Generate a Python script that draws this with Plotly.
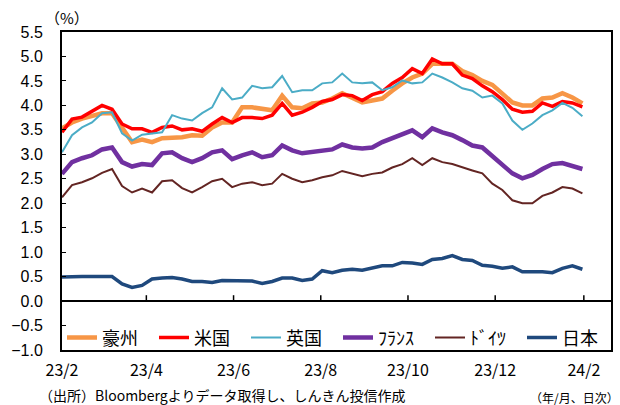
import pandas as pd
import plotly.graph_objects as go

dates = pd.date_range("2023-02-01", periods=53, freq="7D")

aus = [3.53, 3.65, 3.73, 3.78, 3.84, 3.84, 3.55, 3.25, 3.30, 3.25, 3.33, 3.33, 3.35, 3.39,
       3.38, 3.55, 3.65, 3.65, 3.96, 3.96, 3.94, 3.90, 4.20, 3.96, 3.94, 4.04, 4.06, 4.14,
       4.25, 4.16, 4.06, 4.10, 4.14, 4.30, 4.45, 4.57, 4.65, 4.85, 4.85, 4.85, 4.70, 4.62,
       4.50, 4.42, 4.24, 4.06, 4.00, 4.00, 4.14, 4.16, 4.25, 4.16, 4.04]
usa = [3.45, 3.72, 3.76, 3.87, 4.00, 3.92, 3.62, 3.52, 3.52, 3.45, 3.55, 3.58, 3.50, 3.52,
       3.47, 3.62, 3.75, 3.65, 3.75, 3.75, 3.73, 3.80, 4.04, 3.80, 3.86, 3.96, 4.08, 4.12,
       4.22, 4.20, 4.10, 4.22, 4.28, 4.45, 4.57, 4.75, 4.65, 4.95, 4.85, 4.85, 4.62, 4.55,
       4.40, 4.28, 4.12, 3.92, 3.86, 3.88, 4.05, 3.98, 4.08, 4.05, 3.97]
uk = [3.04, 3.39, 3.55, 3.65, 3.84, 3.86, 3.43, 3.28, 3.40, 3.43, 3.45, 3.80, 3.73, 3.69,
      3.84, 3.96, 4.35, 4.12, 4.16, 4.40, 4.35, 4.37, 4.60, 4.27, 4.31, 4.31, 4.45, 4.47,
      4.65, 4.47, 4.45, 4.47, 4.31, 4.37, 4.51, 4.45, 4.47, 4.65, 4.57, 4.47, 4.35, 4.30,
      4.16, 4.20, 4.04, 3.69, 3.50, 3.63, 3.80, 3.90, 4.05, 3.95, 3.78]
fra = [2.60, 2.84, 2.92, 2.98, 3.10, 3.14, 2.84, 2.75, 2.80, 2.78, 3.02, 3.04, 2.92, 2.84,
       2.92, 3.04, 3.08, 2.90, 2.98, 3.04, 2.94, 2.98, 3.18, 3.08, 3.02, 3.04, 3.08, 3.10,
       3.20, 3.14, 3.12, 3.14, 3.25, 3.33, 3.43, 3.49, 3.35, 3.53, 3.45, 3.39, 3.29, 3.18,
       3.14, 2.96, 2.80, 2.61, 2.51, 2.58, 2.70, 2.80, 2.82, 2.76, 2.70]
ger = [2.12, 2.37, 2.43, 2.51, 2.62, 2.70, 2.35, 2.22, 2.30, 2.22, 2.45, 2.47, 2.31, 2.22,
       2.33, 2.45, 2.50, 2.33, 2.40, 2.43, 2.37, 2.40, 2.60, 2.50, 2.43, 2.47, 2.53, 2.57,
       2.66, 2.60, 2.55, 2.60, 2.63, 2.73, 2.80, 2.92, 2.78, 2.92, 2.84, 2.80, 2.73, 2.67,
       2.61, 2.40, 2.27, 2.06, 2.00, 2.00, 2.15, 2.22, 2.33, 2.30, 2.20]
jpn = [0.49, 0.50, 0.50, 0.50, 0.50, 0.50, 0.35, 0.28, 0.32, 0.45, 0.47, 0.48, 0.45, 0.40,
       0.40, 0.38, 0.42, 0.42, 0.42, 0.41, 0.36, 0.40, 0.47, 0.47, 0.42, 0.45, 0.62, 0.58,
       0.63, 0.65, 0.63, 0.68, 0.72, 0.72, 0.79, 0.78, 0.75, 0.85, 0.87, 0.93, 0.85, 0.83,
       0.73, 0.71, 0.67, 0.70, 0.60, 0.60, 0.60, 0.58, 0.67, 0.72, 0.65]

names = ["豪州", "米国", "英国", "ﾌﾗﾝｽ", "ﾄﾞｲﾂ", "日本"]
tick_vals = ["2023-02-01", "2023-04-01", "2023-06-01", "2023-08-01",
             "2023-10-01", "2023-12-01", "2024-02-01"]
tick_text = ["23/2", "23/4", "23/6", "23/8", "23/10", "23/12", "24/2"]

series = [aus, usa, uk, fra, ger, jpn]
colors = ["#F79646", "#FF0000", "#4BACC6", "#7030A0", "#632523", "#1F497D"]
widths = [4.5, 3.5, 2, 4.5, 2, 3.5]

fig = go.Figure()
for i, (nm, ys) in enumerate(zip(names, series)):
    fig.add_trace(go.Scatter(
        x=dates, y=ys, name=nm, mode="lines",
        line=dict(color=colors[i], width=widths[i]),
    ))

# small upward tick marks on the zero line, one per x tick
tick_shapes = [
    dict(type="line", xref="x", yref="y", x0=tv, x1=tv, y0=0, y1=0.12,
         line=dict(color="black", width=1.5), layer="above")
    for tv in tick_vals[1:]
]

xr = ["2023-02-01", "2024-02-20"]
fig.update_layout(
    width=620, height=405,
    margin=dict(l=62, r=9, t=32, b=55),
    paper_bgcolor="white", plot_bgcolor="white",
    font=dict(family="Liberation Sans, Arial", size=16, color="black"),
    showlegend=True,
    shapes=tick_shapes,
    legend=dict(
        orientation="h", x=0.0, y=-0.02, xanchor="left", yanchor="bottom",
        bgcolor="rgba(0,0,0,0)", entrywidth=47, entrywidthmode="pixels",
        font=dict(family="Noto Sans CJK JP", size=18, color="black"),
        itemwidth=30, tracegroupgap=0,
    ),
    xaxis=dict(
        range=xr, tickvals=tick_vals, ticktext=tick_text, automargin=False,
        showgrid=False, zeroline=False, ticks="",
        showline=True, linecolor="black", linewidth=2, mirror=True,
        tickfont=dict(family="Noto Sans CJK JP", size=16),
        ticklabelstandoff=5,
    ),
    yaxis=dict(
        range=[-1.0, 5.5], dtick=0.5, tick0=0, tickformat=".1f", automargin=False,
        showgrid=False,
        zeroline=True, zerolinecolor="black", zerolinewidth=1.5,
        showline=True, linecolor="black", linewidth=2, mirror=True,
        ticks="inside", ticklen=4, tickcolor="black",
        ticklabelstandoff=14,
        tickfont=dict(family="Liberation Sans, Arial", size=16),
    ),
    annotations=[
        dict(text="（%）", xref="paper", yref="paper", x=-0.035, y=1.047,
             xanchor="left", yanchor="middle", showarrow=False,
             font=dict(family="Noto Sans CJK JP", size=15)),
        dict(text="（出所）Bloombergよりデータ取得し、しんきん投信作成",
             xref="paper", yref="paper", x=-0.046, y=-0.142,
             xanchor="left", yanchor="middle", showarrow=False,
             font=dict(family="Noto Sans CJK JP", size=14)),
        dict(text="（年/月、日次）", xref="paper", yref="paper", x=1.018, y=-0.148,
             xanchor="right", yanchor="middle", showarrow=False,
             font=dict(family="Noto Sans CJK JP", size=12)),
    ],
)

fig.write_html("out.html", config={"displayModeBar": False},
               post_script="document.body.style.margin='0';")
